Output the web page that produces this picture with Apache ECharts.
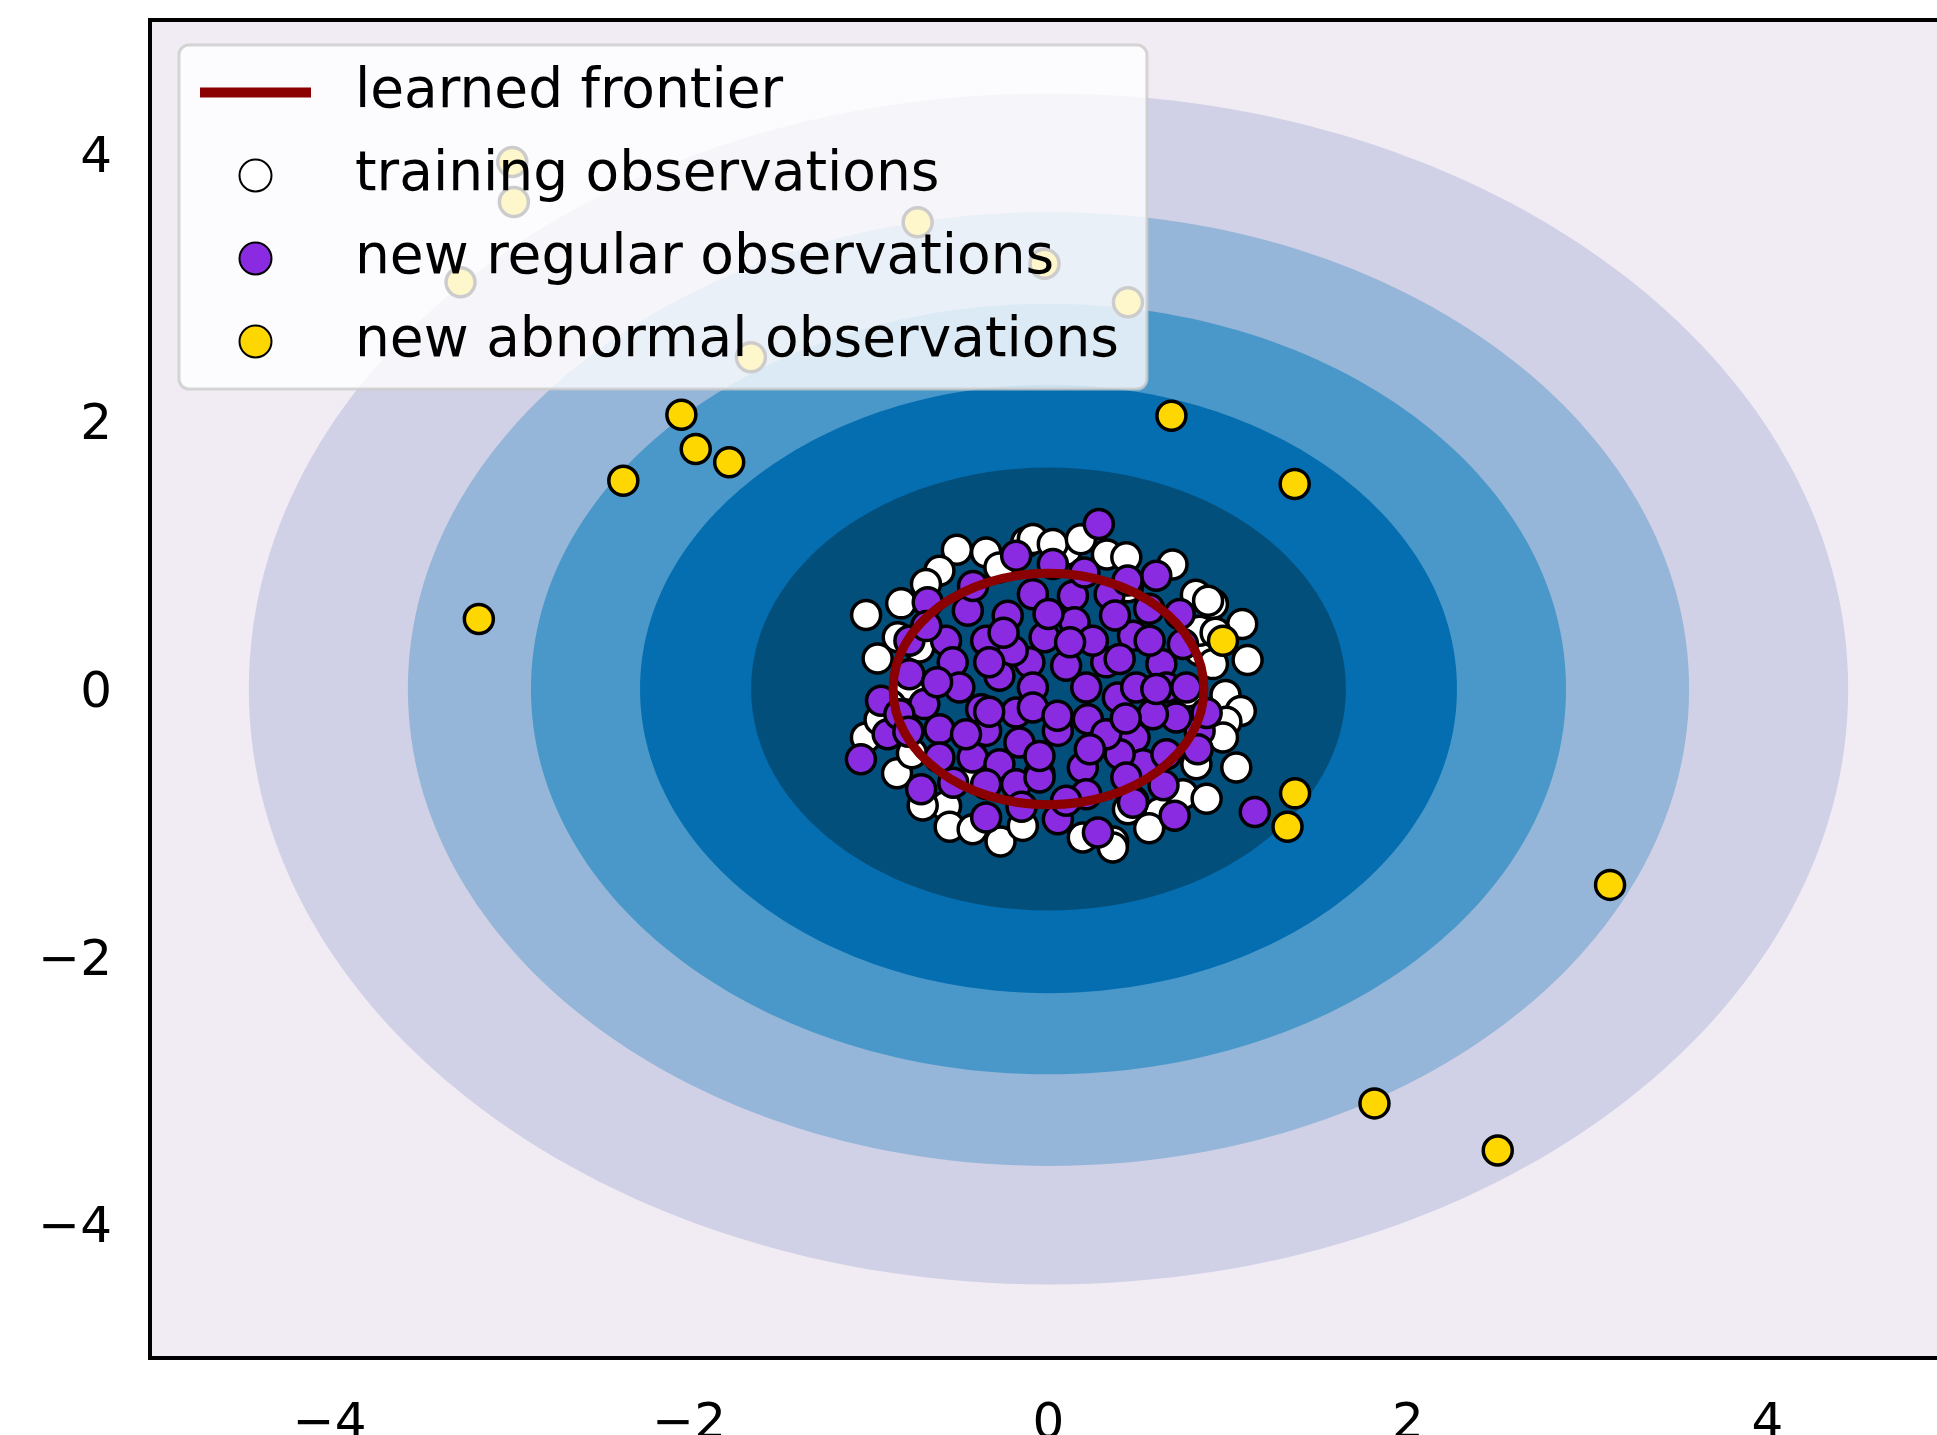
<!DOCTYPE html>
<html>
<head>
<meta charset="utf-8">
<script src="https://cdn.jsdelivr.net/npm/echarts@6/dist/echarts.min.js"></script>
<style>
  html, body { margin: 0; padding: 0; background: #ffffff; }
  #chart { width: 1937px; height: 1435px; }
</style>
</head>
<body>
<div id="chart"></div>
<script>
// Axis ticks
const X_TICKS = [-4, -2, 0, 2, 4];
const Y_TICKS = [-4, -2, 0, 2, 4];

// Decision-function level sets: [centerX, centerY, radius], outermost first
const LEVEL_BANDS = [
  [0, 0, 4.45],
  [0, 0, 3.565],
  [0, 0, 2.88],
  [0, 0, 2.273],
  [0, 0, 1.655]
];

// Zero level of the decision function: [centerX, centerY, radius]
const FRONTIER = [[0, 0, 0.865]];

// Training observations
const TRAINING = [
  [-1.015, 0.553], [-0.510, 1.040], [-0.347, 1.021], [0.325, 1.005], [0.820, 0.705],
  [1.078, 0.485], [1.108, 0.217], [0.985, -0.045], [1.070, -0.165], [0.990, -0.245],
  [0.971, -0.362], [1.045, -0.587], [0.823, -0.562], [-0.839, 0.386], [-0.951, 0.228],
  [-0.843, -0.630], [-1.016, -0.362], [-0.570, -0.874], [-0.550, -1.030], [-0.267, -1.140],
  [-0.143, -1.023], [0.442, -0.898], [0.360, -1.140], [0.618, -0.923], [0.841, 0.286],
  [-0.124, 1.096], [0.099, 1.034], [0.433, 0.984], [0.915, 0.635], [-0.607, 0.884],
  [-0.682, 0.785], [-0.087, 1.121], [0.442, 0.760], [0.888, 0.660], [0.915, 0.186],
  [-0.422, -1.048], [0.191, -1.110], [0.358, -1.185], [0.748, -0.786], [0.470, -0.836],
  [-0.774, 0.024], [-0.719, 0.311], [-0.050, -0.637], [-0.403, -0.662], [0.776, -0.026],
  [0.841, 0.436], [0.024, 1.084], [-0.273, 0.909], [-0.880, -0.120], [-0.760, -0.480],
  [-0.700, -0.870], [0.560, -1.040], [0.880, -0.820], [0.930, 0.420], [0.690, 0.930],
  [-0.820, 0.640], [0.180, 1.120], [-0.940, -0.230]
];

// New regular observations
const REGULAR = [
  [0.280, 1.233], [-0.180, 0.996], [0.024, 0.934], [0.600, 0.847], [-0.672, 0.648],
  [-0.449, 0.585], [-0.227, 0.548], [0.136, 0.697], [-0.022, 0.386], [0.145, 0.498],
  [0.470, 0.398], [-0.570, 0.361], [-0.533, 0.199], [-0.273, 0.099], [-0.106, 0.199],
  [0.098, 0.174], [0.321, 0.199], [0.628, 0.186], [0.656, 0.011], [0.730, 0.560],
  [-0.691, -0.113], [-0.375, -0.151], [-0.180, -0.176], [-0.932, -0.088], [0.219, -0.226],
  [0.386, -0.064], [-0.607, -0.301], [-0.895, -0.338], [0.052, -0.313], [0.479, -0.363],
  [0.841, -0.313], [-0.162, -0.400], [-0.422, -0.512], [-0.273, -0.562], [0.191, -0.587],
  [-1.044, -0.525], [-0.709, -0.749], [-0.180, -0.712], [0.052, -0.973], [0.275, -1.073],
  [0.702, -0.948], [1.148, -0.920], [0.526, -0.562], [0.396, -0.487], [0.711, -0.213],
  [-0.347, 0.361], [0.247, 0.361], [0.396, 0.224], [0.563, 0.361], [-0.087, 0.011],
  [0.210, 0.011], [0.488, 0.011], [-0.496, 0.011], [-0.774, 0.111], [-0.347, -0.313],
  [-0.087, -0.138], [0.321, -0.338], [0.581, -0.188], [-0.050, -0.662], [-0.347, -0.711],
  [-0.459, -0.338], [0.433, -0.662], [0.210, -0.787], [-0.607, -0.512], [-0.830, -0.188],
  [-0.199, 0.286], [-0.774, 0.361], [0.748, 0.336], [0.767, 0.011], [-0.087, 0.709],
  [0.340, 0.709], [0.656, -0.487], [0.098, -0.836], [-0.347, -0.961],
  [-0.420, 0.770], [0.200, 0.870], [0.440, 0.810], [0.370, 0.550], [0.560, 0.600],
  [0.000, 0.560], [-0.330, 0.200], [0.050, -0.200], [-0.330, -0.170], [0.430, -0.220],
  [0.880, -0.180], [-0.050, -0.500], [0.830, -0.450], [0.640, -0.720], [-0.530, -0.700],
  [-0.150, -0.880], [-0.620, 0.050], [0.230, -0.450], [-0.250, 0.420], [0.600, 0.000],
  [-0.780, -0.320], [0.120, 0.350], [-0.680, 0.470], [0.470, -0.850]
];

// New abnormal observations
const ABNORMAL = [
  [-2.984, 3.938], [-2.975, 3.639], [-3.272, 3.040], [-1.656, 2.479], [-2.043, 2.049],
  [-1.963, 1.794], [-1.777, 1.694], [-2.366, 1.557], [-3.170, 0.523], [-0.728, 3.489],
  [-0.022, 3.178], [0.442, 2.891], [0.684, 2.043], [1.370, 1.533], [0.971, 0.361],
  [1.372, -0.780], [1.330, -1.029], [3.125, -1.464], [1.814, -3.097], [2.500, -3.449]
];

// Styling
const FONT = 'DejaVu Sans';
const BACKGROUND_FILL = '#f1ebf4';
const BAND_FILLS = ['#d0d1e6', '#95b6d8', '#4a98c9', '#056eb0', '#034f7c'];
const MARKER_SIZE = 29;
const MARKER_EDGE = 3.5;
const minusSign = v => String(v).replace('-', '\u2212');
// y tick labels sit a little lower so the digits are centred on their ticks
const yTickLabel = v => '{t|' + minusSign(v) + '}';

const chart = echarts.init(document.getElementById('chart'), null, { renderer: 'canvas' });

function ellipseItem(styleFor) {
  return function (params, api) {
    const c = api.coord([api.value(0), api.value(1)]);
    const s = api.size([api.value(2), api.value(2)]);
    return {
      type: 'ellipse',
      shape: { cx: c[0], cy: c[1], rx: s[0], ry: s[1] },
      style: styleFor(params)
    };
  };
}

chart.setOption({
  animation: false,
  backgroundColor: '#ffffff',
  grid: {
    left: 150, top: 20, width: 1797, height: 1338,
    show: true,
    backgroundColor: BACKGROUND_FILL,
    borderColor: '#000000',
    borderWidth: 4,
    containLabel: false,
    outerBoundsMode: 'none'
  },
  xAxis: {
    type: 'value', min: -5, max: 5,
    axisLine: { show: false },
    splitLine: { show: false },
    axisTick: { show: true, customValues: X_TICKS, length: 20, lineStyle: { color: '#000', width: 4 } },
    axisLabel: { customValues: X_TICKS, margin: 42, fontSize: 50, fontFamily: FONT, color: '#000', formatter: minusSign }
  },
  yAxis: {
    type: 'value', min: -5, max: 5,
    axisLine: { show: false },
    splitLine: { show: false },
    axisTick: { show: true, customValues: Y_TICKS, length: 20, lineStyle: { color: '#000', width: 4 } },
    axisLabel: {
      customValues: Y_TICKS, margin: 38, fontSize: 50, fontFamily: FONT, color: '#000',
      formatter: yTickLabel,
      rich: { t: { fontSize: 50, fontFamily: FONT, color: '#000', padding: [10, 0, 0, 0] } }
    }
  },
  legend: {
    orient: 'vertical',
    left: 179, top: 45,
    padding: [20, 28, 20, 21],
    itemGap: 28,
    itemWidth: 111,
    itemHeight: 32,
    selectedMode: false,
    backgroundColor: 'rgba(255,255,255,0.8)',
    borderColor: 'rgba(204,204,204,0.8)',
    borderWidth: 3,
    borderRadius: 10,
    textStyle: { fontSize: 55, fontFamily: FONT, color: '#000', padding: [0, 0, 0, 39] },
    data: [
      { name: 'learned frontier', icon: 'path://M0,0H111V10H0Z' },
      { name: 'training observations', icon: 'circle' },
      { name: 'new regular observations', icon: 'circle' },
      { name: 'new abnormal observations', icon: 'circle' }
    ]
  },
  series: [
    {
      name: 'levels',
      type: 'custom',
      coordinateSystem: 'cartesian2d',
      silent: true,
      z: 1,
      data: LEVEL_BANDS,
      renderItem: ellipseItem(p => ({ fill: BAND_FILLS[p.dataIndex] }))
    },
    {
      name: 'training observations',
      type: 'scatter',
      z: 2,
      data: TRAINING,
      symbol: 'circle',
      symbolSize: MARKER_SIZE,
      itemStyle: { color: '#ffffff', borderColor: '#000000', borderWidth: MARKER_EDGE, opacity: 1 }
    },
    {
      name: 'new regular observations',
      type: 'scatter',
      z: 2,
      data: REGULAR,
      symbol: 'circle',
      symbolSize: MARKER_SIZE,
      itemStyle: { color: '#8a2be2', borderColor: '#000000', borderWidth: MARKER_EDGE, opacity: 1 }
    },
    {
      name: 'new abnormal observations',
      type: 'scatter',
      z: 2,
      data: ABNORMAL,
      symbol: 'circle',
      symbolSize: MARKER_SIZE,
      itemStyle: { color: '#ffd700', borderColor: '#000000', borderWidth: MARKER_EDGE, opacity: 1 }
    },
    {
      name: 'learned frontier',
      type: 'custom',
      coordinateSystem: 'cartesian2d',
      silent: true,
      z: 3,
      itemStyle: { color: '#8b0000' },
      data: FRONTIER,
      renderItem: ellipseItem(() => ({ fill: 'none', stroke: '#8b0000', lineWidth: 9 }))
    }
  ]
});
</script>
</body>
</html>
